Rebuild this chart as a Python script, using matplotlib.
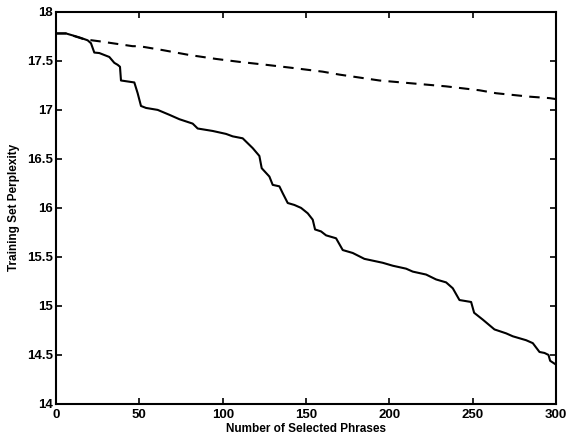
import matplotlib
matplotlib.use("Agg")
import matplotlib.pyplot as plt
import numpy as np

# curva con seleccion (linea continua)
x_sel = [0, 6, 14, 19, 21, 23, 26, 32, 35, 37, 38.4, 39, 47, 49, 51, 54, 61, 68, 74, 82,
         85, 94, 102, 106, 112, 118, 122, 123.4, 128, 130, 134, 136, 139, 143, 147, 151,
         154, 155.4, 159, 162, 168, 172, 178, 185, 196, 202, 210, 214, 222, 228, 234,
         238, 242, 249, 250.8, 256, 263, 270, 274, 282, 286, 290, 293, 295.4, 296.4, 300]
y_sel = [17.78, 17.78, 17.74, 17.71, 17.68, 17.585, 17.58, 17.54, 17.48, 17.46, 17.44,
         17.30, 17.28, 17.17, 17.04, 17.02, 17.0, 16.95, 16.905, 16.86, 16.81, 16.785,
         16.755, 16.73, 16.71, 16.61, 16.53, 16.405, 16.32, 16.235, 16.22, 16.15, 16.05,
         16.03, 16.0, 15.945, 15.88, 15.78, 15.76, 15.72, 15.69, 15.57, 15.54, 15.48,
         15.44, 15.41, 15.38, 15.35, 15.32, 15.27, 15.24, 15.18, 15.06, 15.04, 14.93,
         14.86, 14.76, 14.72, 14.69, 14.65, 14.62, 14.53, 14.52, 14.50, 14.44, 14.40]

# curva de referencia (linea discontinua)
x_ref = [0, 6, 17, 26, 46, 50, 64, 80, 96, 110, 126, 141, 160, 170, 194, 214, 234, 254,
         264, 284, 296, 300]
y_ref = [17.78, 17.78, 17.72, 17.70, 17.65, 17.65, 17.61, 17.56, 17.52, 17.49, 17.46,
         17.43, 17.39, 17.36, 17.30, 17.27, 17.24, 17.20, 17.17, 17.135, 17.12, 17.11]

x_ticks = [0, 50, 100, 150, 200, 250, 300]
y_ticks = [14, 14.5, 15, 15.5, 16, 16.5, 17, 17.5, 18]
y_tick_labels = ["14", "14.5", "15", "15.5", "16", "16.5", "17", "17.5", "18"]

plt.rcParams['font.family'] = ['Liberation Sans', 'DejaVu Sans']

fig = plt.figure(figsize=(5.71, 4.40), dpi=100)
ax = fig.add_axes([0.098, 0.082, 0.876, 0.891])

ax.plot(x_sel, y_sel, "k-", lw=1.5)
ax.plot(x_ref, y_ref, "k--", lw=1.5, dashes=(5, 3.5))

ax.set_xlim(0, 300)
ax.set_ylim(14, 18)
ax.set_xticks(x_ticks)
ax.set_yticks(y_ticks)
ax.set_yticklabels(y_tick_labels)
ax.tick_params(direction="in", top=True, right=True, length=4, width=1.2,
               labelsize=9.5, pad=2)
ax.tick_params(axis="x", pad=4)
for lbl in ax.get_xticklabels() + ax.get_yticklabels():
    lbl.set_fontweight("bold")
for s in ax.spines.values():
    s.set_linewidth(1.5)

ax.set_xlabel("Number of Selected Phrases", fontsize=8.5, fontweight="bold", labelpad=1)
ax.set_ylabel("Training Set Perplexity", fontsize=8.5, fontweight="bold", labelpad=5)

fig.savefig("out.png", dpi=100)
